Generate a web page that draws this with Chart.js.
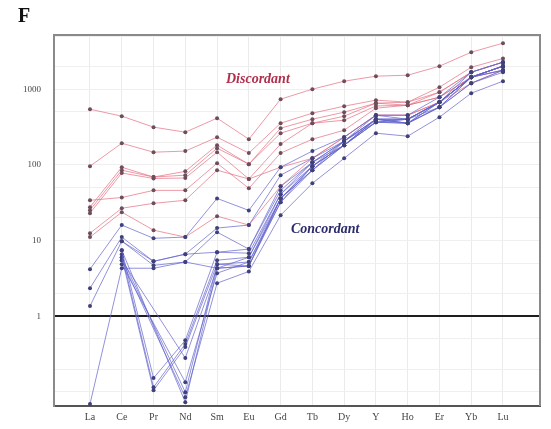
<!DOCTYPE html>
<html>
<head>
<meta charset="utf-8">
<script src="https://cdn.jsdelivr.net/npm/chart.js@4/dist/chart.umd.min.js"></script>
<style>
  body { margin: 0; background: #fff; }
  #wrap { position: relative; width: 551px; height: 429px; }
</style>
</head>
<body>
<div id="wrap"><canvas id="grafico" width="551" height="429"></canvas></div>
<script>
// REE pattern, sample / chondrite
const elements = ['La', 'Ce', 'Pr', 'Nd', 'Sm', 'Eu', 'Gd', 'Tb', 'Dy', 'Y', 'Ho', 'Er', 'Yb', 'Lu'];
const yLabels = [1, 10, 100, 1000];
const yGrid = [0.1, 0.2, 0.5, 1, 2, 5, 10, 20, 50, 100, 200, 500, 1000, 2000, 5000];

// discordant (red)
const disc1 = [543, 440, 315, 270, 414, 218, 738, 1000, 1275, 1485, 1530, 2013, 3080, 4055];
const disc2 = [96, 193, 147, 152, 232, 143, 355, 482, 596, 716, 673, 1062, 1950, 2545];
const disc3 = [27.6, 93, 69, 82, 182, 102, 305, 401, 497, 653, 673, 912, 1675, 2275];
const disc4 = [25.2, 85, 69, 73, 166, 102, 262, 355, 440, 653, 614, 912, 1675, 2275];
const disc5 = [23, 78, 66, 67, 147, 65, 188, 355, 389, 600, 614, 784, 1440, 2015];
const disc6 = [34, 37, 46, 46, 105, 49, 143, 218, 287, 561, 614, 784, 1440, 2015];
const disc7 = [12.5, 26.7, 31, 34, 85, 65, 93, 122, 232, 453, 453, 673, 1440, 1780];
const disc8 = [11.1, 23.7, 13.7, 11.1, 21, 16, 52, 122, 232, 453, 453, 673, 1200, 1780];

// concordant (blue)
const conc1 = [4.18, 16, 10.7, 11.1, 36, 25, 93, 152, 232, 453, 453, 784, 1675, 2275];
const conc2 = [2.34, 11.1, 5.3, 6.6, 14.6, 16, 73, 122, 206, 401, 401, 673, 1440, 2015];
const conc3 = [1.36, 9.8, 4.7, 5.2, 12.9, 7.7, 52, 108, 182, 401, 355, 673, 1440, 2015];
const conc4 = [0.069, 4.3, 4.3, 5.2, 4.3, 4.6, 36, 96, 182, 366, 355, 578, 1200, 1780];
const conc5 = [null, 9.8, 5.3, 6.6, 7.0, 7.7, 46, 108, 206, 401, 401, 673, 1440, 2015];
const conc6 = [null, 7.45, 0.152, 0.48, 7.0, 6.8, 41, 96, 182, 366, 401, 673, 1440, 1780];
const conc7 = [null, 6.6, 0.115, 0.43, 5.5, 6.0, 36, 85, 182, 401, 355, 578, 1440, 2015];
const conc8 = [null, 6.0, 0.105, 0.39, 4.86, 5.2, 32, 96, 206, 453, 401, 673, 1675, 2275];
const conc9 = [null, 5.5, null, 0.28, 4.3, 6.0, 41, 108, 206, 401, 401, 673, 1440, 2015];
const conc10 = [null, 4.86, null, 0.134, 3.7, 5.2, 36, 96, 182, 401, 355, 673, 1440, 1780];
const conc11 = [null, 6.0, null, 0.099, 4.86, 4.6, 32, 85, 206, 366, 401, 578, 1440, 2015];
const conc12 = [null, 5.5, null, 0.085, 2.73, 3.9, 21.6, 57, 122, 262, 239, 427, 885, 1275];
const conc13 = [null, 7.45, null, 0.073, 4.3, 4.6, 36, 85, 182, 366, 355, 578, 1200, 1675];

const discordant = [disc1, disc2, disc3, disc4, disc5, disc6, disc7, disc8];
const concordant = [conc1, conc2, conc3, conc4, conc5, conc6, conc7, conc8, conc9, conc10, conc11, conc12, conc13];

function serie(valores, linea, punto) {
    return {
        data: valores.map((v, i) => ({ x: i, y: v })),
        borderColor: linea,
        borderWidth: 1,
        pointRadius: 2,
        pointBorderWidth: 0,
        pointBackgroundColor: punto,
        spanGaps: true,
        tension: 0
    };
}

const datasets = []
    .concat(concordant.map(s => serie(s, 'rgba(100, 100, 205, 0.7)', '#40407a')))
    .concat(discordant.map(s => serie(s, 'rgba(230, 110, 128, 0.7)', '#6e4e5c')));

// marco y textos
const marco = {
    id: 'marco',
    afterDraw(chart) {
        const { ctx, chartArea: a } = chart;
        ctx.save();
        ctx.strokeStyle = '#8a8a8a';
        ctx.lineWidth = 2;
        ctx.beginPath();
        ctx.moveTo(a.left, a.bottom);
        ctx.lineTo(a.left, a.top);
        ctx.lineTo(a.right, a.top);
        ctx.lineTo(a.right, a.bottom);
        ctx.stroke();

        ctx.fillStyle = '#111';
        ctx.font = 'bold 20px "Liberation Serif", serif';
        ctx.textBaseline = 'middle';
        ctx.fillText('F', 18, 17);

        ctx.font = 'italic bold 14px "Liberation Serif", serif';
        ctx.fillStyle = '#b0304c';
        ctx.fillText('Discordant', 226, 79);
        ctx.fillStyle = '#2c2c6c';
        ctx.fillText('Concordant', 291, 229);
        ctx.restore();
    }
};

new Chart(document.getElementById('grafico'), {
    type: 'line',
    data: { datasets: datasets },
    options: {
        responsive: false,
        animation: false,
        layout: { padding: { top: 35, right: 11, left: 0, bottom: 0 } },
        plugins: { legend: { display: false }, tooltip: { enabled: false } },
        scales: {
            x: {
                type: 'linear',
                min: -1.133,
                max: 14.165,
                afterBuildTicks: (scale) => { scale.ticks = elements.map((_, i) => ({ value: i })); },
                afterFit: (scale) => { scale.height = 23; },
                ticks: {
                    callback: (v) => elements[v] || '',
                    color: '#444',
                    padding: 5,
                    maxRotation: 0,
                    autoSkip: false,
                    font: { family: '"Liberation Serif", serif', size: 10 }
                },
                grid: { color: '#ebebeb', lineWidth: 1, drawTicks: false },
                border: { color: '#555', width: 2 }
            },
            y: {
                type: 'logarithmic',
                min: 0.065,
                max: 5200,
                afterBuildTicks: (scale) => { scale.ticks = yGrid.map(v => ({ value: v })); },
                afterFit: (scale) => { scale.width = 54; },
                ticks: {
                    callback: (v) => yLabels.includes(v) ? String(v) : '',
                    color: '#444',
                    padding: 13,
                    autoSkip: false,
                    font: { family: '"Liberation Serif", serif', size: 9 }
                },
                grid: {
                    color: (c) => c.tick && c.tick.value === 1 ? '#1e1e1e' : '#efefef',
                    lineWidth: (c) => c.tick && c.tick.value === 1 ? 2 : 1,
                    drawTicks: false
                },
                border: { color: '#8a8a8a', width: 2 }
            }
        }
    },
    plugins: [marco]
});
</script>
</body>
</html>
